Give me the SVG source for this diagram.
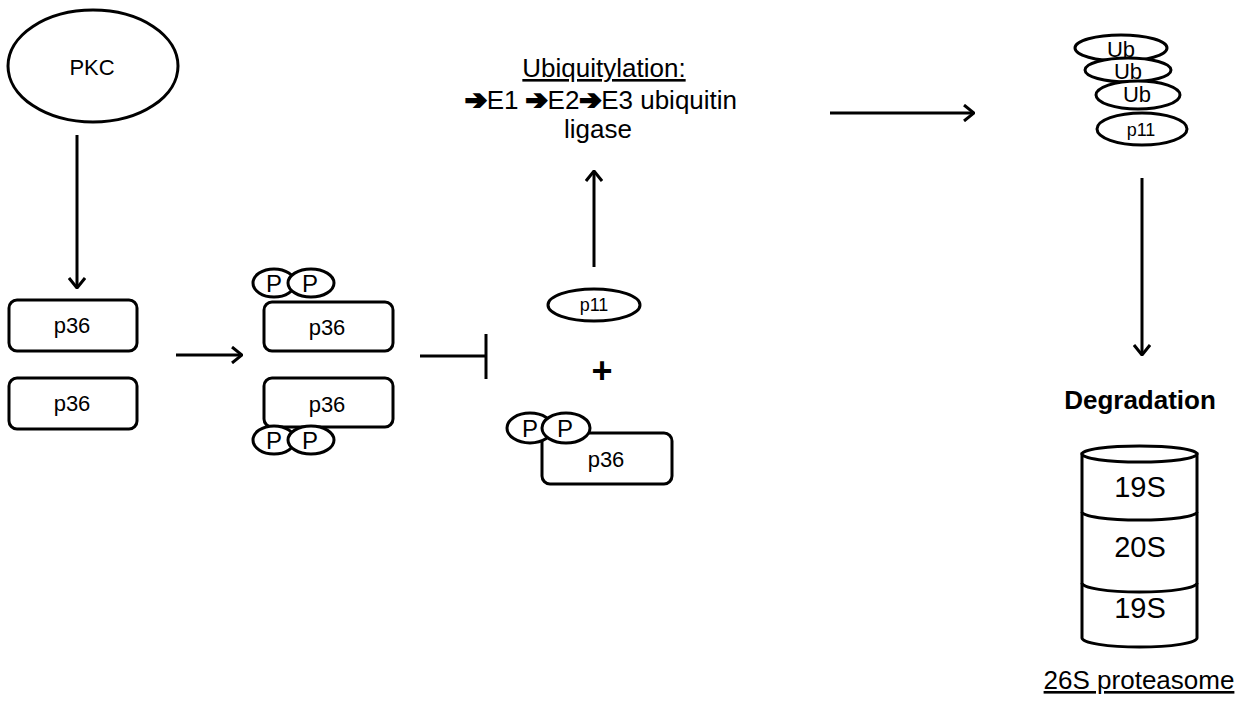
<svg xmlns="http://www.w3.org/2000/svg" width="1251" height="702" viewBox="0 0 1251 702">
  <style>
    .shape { fill: #fff; stroke: #000; stroke-width: 3; }
    .line { fill: none; stroke: #000; stroke-width: 3; }
    .lbl { font-family: "Liberation Sans", Arial, sans-serif; fill: #000; text-anchor: middle; }
    .arr { font-family: "DejaVu Sans", sans-serif; stroke: #000; stroke-width: 2.2; stroke-linejoin: miter; }
    .s18 { font-size: 18px; }
    .s22 { font-size: 22px; }
    .s24 { font-size: 24px; }
    .s26 { font-size: 26px; }
    .s29 { font-size: 29px; }
  </style>
  <defs>
    <marker id="arrow" viewBox="0 0 12 18" refX="11" refY="9" markerWidth="12" markerHeight="18" markerUnits="userSpaceOnUse" orient="auto">
      <path d="M1,1 L11,9 L1,17" fill="none" stroke="#000" stroke-width="3" stroke-linejoin="miter"/>
    </marker>
  </defs>
  <rect width="1251" height="702" fill="#fff"/>

  <g id="connectors">
    <line class="line" x1="77" y1="135" x2="77" y2="288" marker-end="url(#arrow)"/>
    <line class="line" x1="176" y1="355" x2="242" y2="355" marker-end="url(#arrow)"/>
    <line class="line" x1="420" y1="356" x2="486" y2="356"/>
    <line class="line" x1="486" y1="334" x2="486" y2="379"/>
    <line class="line" x1="594" y1="267" x2="594" y2="171" marker-end="url(#arrow)"/>
    <line class="line" x1="830" y1="113" x2="974" y2="113" marker-end="url(#arrow)"/>
    <line class="line" x1="1142" y1="178" x2="1142" y2="355" marker-end="url(#arrow)"/>
  </g>

  <g id="pkc">
    <ellipse class="shape" cx="93" cy="66" rx="85" ry="56"/>
    <text class="lbl s22" x="92" y="75">PKC</text>
  </g>

  <g id="p36-a">
    <rect class="shape" x="9" y="300" width="128" height="51" rx="8"/>
    <text class="lbl s22" x="72" y="333">p36</text>
  </g>
  <g id="p36-b">
    <rect class="shape" x="9" y="378" width="128" height="51" rx="8"/>
    <text class="lbl s22" x="72" y="411">p36</text>
  </g>

  <g id="p36-phos-a">
    <rect class="shape" x="264" y="302" width="129" height="49" rx="8"/>
    <text class="lbl s22" x="327" y="335">p36</text>
    <ellipse class="shape" cx="274" cy="283" rx="21" ry="14"/>
    <ellipse class="shape" cx="311" cy="283" rx="23" ry="14"/>
    <text class="lbl s24" x="274" y="292">P</text>
    <text class="lbl s24" x="310" y="292">P</text>
  </g>
  <g id="p36-phos-b">
    <rect class="shape" x="264" y="378" width="129" height="49" rx="8"/>
    <text class="lbl s22" x="327" y="412">p36</text>
    <ellipse class="shape" cx="274" cy="440" rx="21" ry="14"/>
    <ellipse class="shape" cx="311" cy="440" rx="23" ry="14"/>
    <text class="lbl s24" x="274" y="449">P</text>
    <text class="lbl s24" x="310" y="449">P</text>
  </g>

  <g id="p11">
    <ellipse class="shape" cx="594" cy="305" rx="46" ry="16"/>
    <text class="lbl s18" x="594" y="311">p11</text>
  </g>

  <g id="plus">
    <text class="lbl" style="font-size:36px;font-weight:bold" x="602" y="383">+</text>
  </g>

  <g id="p36-phos-c">
    <rect class="shape" x="542" y="433" width="130" height="51" rx="8"/>
    <text class="lbl s22" x="606" y="467">p36</text>
    <ellipse class="shape" cx="530" cy="428" rx="23" ry="15"/>
    <ellipse class="shape" cx="566" cy="428" rx="24" ry="15"/>
    <text class="lbl s24" x="530" y="437">P</text>
    <text class="lbl s24" x="565" y="437">P</text>
  </g>

  <g id="ubiquitylation">
    <text class="lbl s26" x="604" y="77" text-decoration="underline">Ubiquitylation:</text>
    <text class="lbl s26" x="601" y="109"><tspan class="arr">➔</tspan>E1 <tspan class="arr">➔</tspan>E2<tspan class="arr">➔</tspan>E3 ubiquitin</text>
    <text class="lbl s26" x="598" y="138">ligase</text>
  </g>

  <g id="ub-chain">
    <ellipse class="shape" cx="1121" cy="48" rx="46" ry="13"/>
    <text class="lbl s22" x="1121" y="57">Ub</text>
    <ellipse class="shape" cx="1128" cy="70" rx="43" ry="12"/>
    <text class="lbl s22" x="1128" y="79">Ub</text>
    <ellipse class="shape" cx="1138" cy="95" rx="42" ry="14"/>
    <text class="lbl s22" x="1137" y="102">Ub</text>
    <ellipse class="shape" cx="1142" cy="129" rx="45" ry="16"/>
    <text class="lbl s18" x="1141" y="136">p11</text>
  </g>

  <g id="degradation">
    <text class="lbl s26" style="font-weight:bold" x="1140" y="409">Degradation</text>
  </g>

  <g id="proteasome">
    <path class="shape" d="M1082,454 L1082,638 A57.5,9 0 0 0 1197,638 L1197,454 Z"/>
    <ellipse class="shape" cx="1139.5" cy="454" rx="57.5" ry="8"/>
    <path class="line" d="M1082,512 A57.5,8 0 0 0 1197,512"/>
    <path class="line" d="M1082,583 A57.5,9 0 0 0 1197,583"/>
    <text class="lbl s29" x="1140" y="497">19S</text>
    <text class="lbl s29" x="1140" y="557">20S</text>
    <text class="lbl s29" x="1140" y="618">19S</text>
    <text class="lbl s26" x="1139" y="689" text-decoration="underline">26S proteasome</text>
  </g>
</svg>
